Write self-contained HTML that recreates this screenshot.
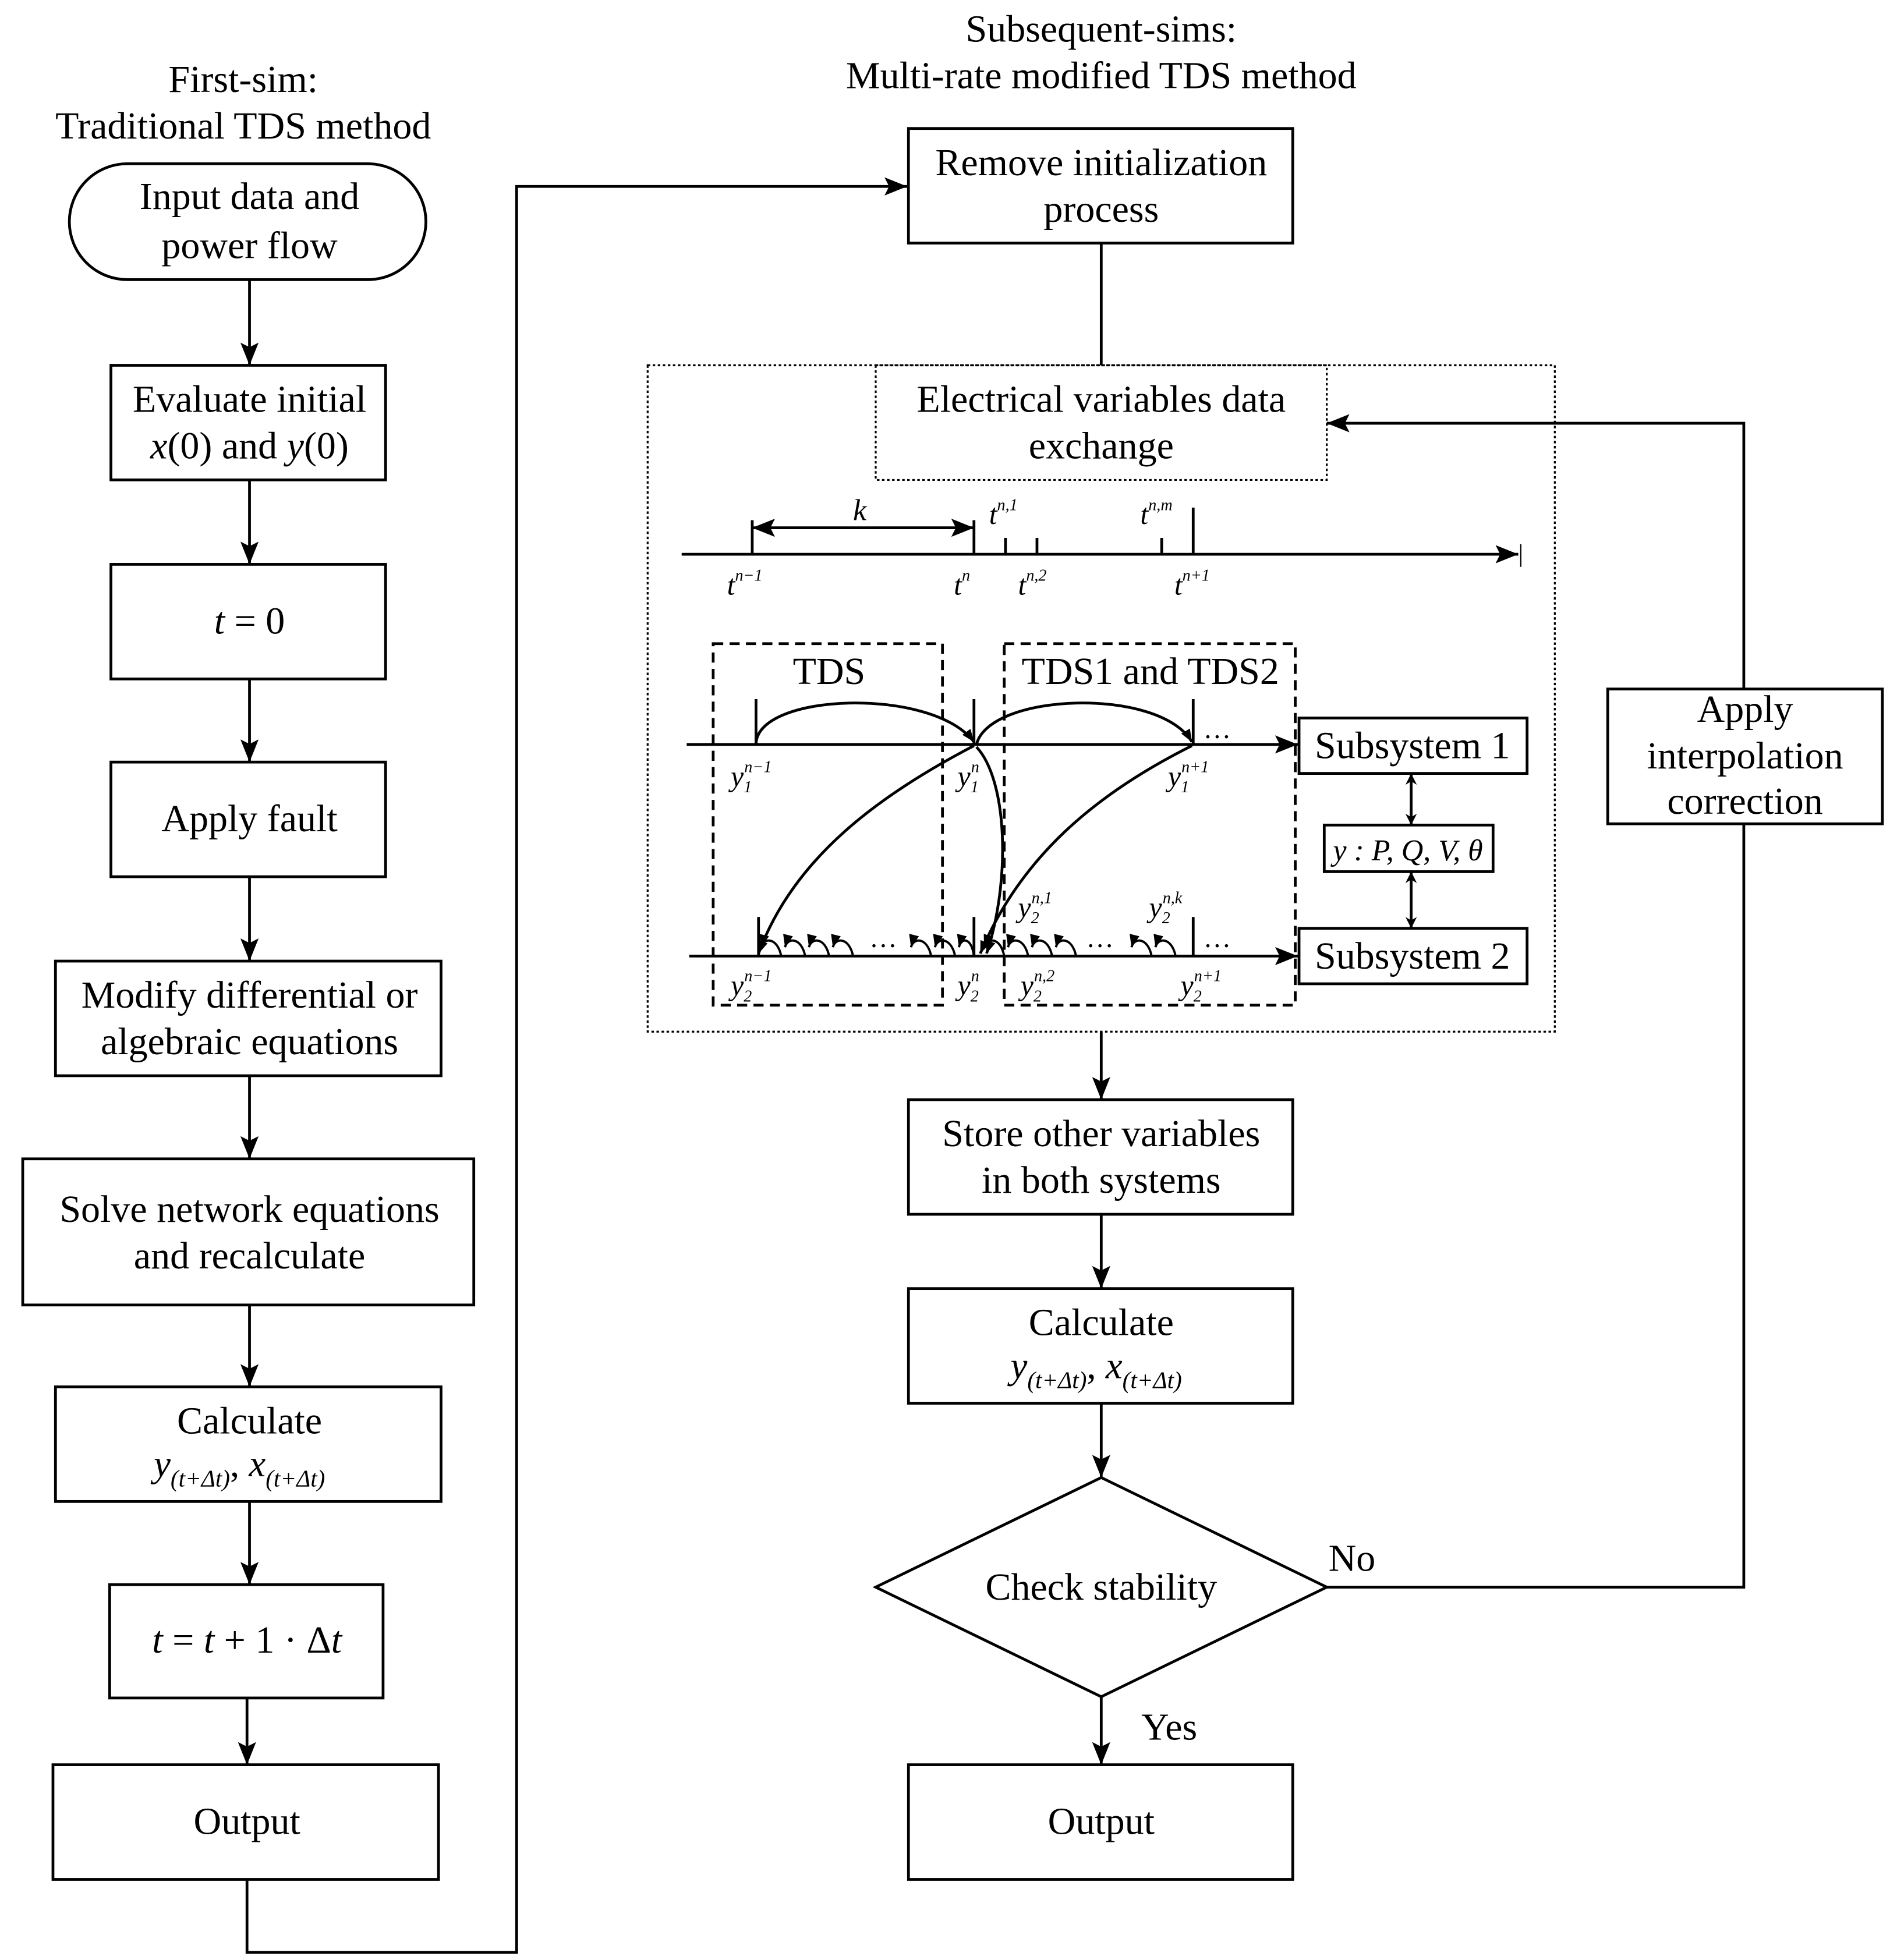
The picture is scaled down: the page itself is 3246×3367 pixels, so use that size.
<!DOCTYPE html>
<html><head><meta charset="utf-8"><style>html,body{margin:0;padding:0;background:#fff}svg{display:block}text{font-family:"Liberation Serif",serif;fill:#000}</style></head><body>
<svg width="3246" height="3367" viewBox="0 0 1500 1556" xmlns="http://www.w3.org/2000/svg">
<defs>
<marker id="a" viewBox="0 0 10 10" refX="10" refY="5" markerWidth="9" markerHeight="9" markerUnits="userSpaceOnUse" orient="auto-start-reverse"><path d="M0,0 L10,5 L0,10 L3,5 z" fill="#000"/></marker>
<marker id="b" viewBox="0 0 10 10" refX="10" refY="5" markerWidth="18" markerHeight="18" markerUnits="userSpaceOnUse" orient="auto-start-reverse"><path d="M0,1 L10,5 L0,9 L2,5 z" fill="#000"/></marker>
<marker id="s" viewBox="0 0 10 10" refX="10" refY="5" markerWidth="10" markerHeight="10" markerUnits="userSpaceOnUse" orient="auto"><path d="M0,1 L10,5 L0,9 z" fill="#000"/></marker>
</defs>
<g fill="none" stroke="#000" stroke-width="2.2">
<rect x="55" y="130" width="283" height="92" rx="46"/>
<rect x="88" y="290" width="218" height="91"/>
<rect x="88" y="448" width="218" height="91"/>
<rect x="88" y="605" width="218" height="91"/>
<rect x="44" y="763" width="306" height="91"/>
<rect x="18" y="920" width="358" height="116"/>
<rect x="44" y="1101" width="306" height="91"/>
<rect x="87" y="1258" width="217" height="90"/>
<rect x="42" y="1401" width="306" height="91"/>
<g marker-end="url(#b)">
<line x1="198" y1="222" x2="198" y2="290"/>
<line x1="198" y1="381" x2="198" y2="448"/>
<line x1="198" y1="539" x2="198" y2="605"/>
<line x1="198" y1="696" x2="198" y2="763"/>
<line x1="198" y1="854" x2="198" y2="920"/>
<line x1="198" y1="1036" x2="198" y2="1101"/>
<line x1="198" y1="1192" x2="198" y2="1258"/>
<line x1="196" y1="1348" x2="196" y2="1401"/>
<polyline points="196,1492 196,1550 410,1550 410,148 720,148"/>
</g>
<rect x="721" y="102" width="305" height="91"/>
<line x1="874" y1="193" x2="874" y2="290"/>
<rect x="514" y="290" width="720" height="529" stroke-dasharray="2,2" stroke-width="1.5"/>
<rect x="695" y="290" width="358" height="91" stroke-dasharray="2,2" stroke-width="1.5"/>
<rect x="721" y="873" width="305" height="91"/>
<rect x="721" y="1023" width="305" height="91"/>
<polygon points="874,1173 1053,1260 874,1347 695,1260"/>
<rect x="721" y="1401" width="305" height="91"/>
<rect x="1276" y="547" width="218" height="107"/>
<g marker-end="url(#b)">
<line x1="874" y1="819" x2="874" y2="873"/>
<line x1="874" y1="964" x2="874" y2="1023"/>
<line x1="874" y1="1114" x2="874" y2="1173"/>
<line x1="874" y1="1347" x2="874" y2="1401"/>
<polyline points="1384,547 1384,336 1053,336"/>
</g>
<polyline points="1053,1260 1384,1260 1384,654"/>
<line x1="541" y1="440" x2="1205" y2="440" marker-end="url(#b)"/>
<line x1="1207" y1="432" x2="1207" y2="450" stroke-width="1"/>
<line x1="597" y1="413" x2="597" y2="440"/><line x1="773" y1="413" x2="773" y2="440"/>
<line x1="798" y1="427" x2="798" y2="440"/><line x1="823" y1="427" x2="823" y2="440"/>
<line x1="922" y1="427" x2="922" y2="440"/><line x1="947" y1="403" x2="947" y2="440"/>
<line x1="597" y1="419" x2="773" y2="419" marker-start="url(#b)" marker-end="url(#b)"/>
<rect x="566" y="511" width="182" height="287" stroke-dasharray="8,5"/>
<rect x="797" y="511" width="231" height="287" stroke-dasharray="8,5"/>
<line x1="545" y1="591" x2="1030" y2="591" marker-end="url(#b)"/>
<line x1="547" y1="759" x2="1030" y2="759" marker-end="url(#b)"/>
<rect x="1031" y="570" width="181" height="44"/>
<rect x="1031" y="737" width="181" height="44"/>
<rect x="1051" y="655" width="134" height="37"/>
<line x1="1120" y1="614" x2="1120" y2="655" marker-start="url(#a)" marker-end="url(#a)"/>
<line x1="1120" y1="692" x2="1120" y2="737" marker-start="url(#a)" marker-end="url(#a)"/>
<line x1="600" y1="555" x2="600" y2="591"/><line x1="773" y1="555" x2="773" y2="591"/><line x1="947" y1="555" x2="947" y2="591"/>
<line x1="602" y1="728" x2="602" y2="759"/><line x1="773" y1="728" x2="773" y2="759"/><line x1="947" y1="728" x2="947" y2="759"/>
<path d="M600,591 C600,550 740,545 773,589" marker-end="url(#s)"/>
<path d="M775,591 C785,550 920,545 946,589" marker-end="url(#s)"/>
<path d="M773,592 C700,630 630,680 602,757" marker-end="url(#s)"/>
<path d="M946,592 C870,630 810,680 778,757" marker-end="url(#s)"/>
<path d="M775,593 C800,620 802,700 783,757" marker-end="url(#s)"/>
<g stroke-width="1.8">
<path d="M620,759 C617,744 606,744 604,752" marker-end="url(#s)"/>
<path d="M639,759 C636,744 625,744 623,752" marker-end="url(#s)"/>
<path d="M658,759 C655,744 644,744 642,752" marker-end="url(#s)"/>
<path d="M677,759 C674,744 663,744 661,752" marker-end="url(#s)"/>
<path d="M739,759 C736,744 725,744 723,752" marker-end="url(#s)"/>
<path d="M758,759 C755,744 744,744 742,752" marker-end="url(#s)"/>
<path d="M773,759 C771,744 763,744 761,752" marker-end="url(#s)"/>
<path d="M797,759 C794,744 784,744 781,752" marker-end="url(#s)"/>
<path d="M816,759 C813,744 802,744 800,752" marker-end="url(#s)"/>
<path d="M835,759 C832,744 821,744 819,752" marker-end="url(#s)"/>
<path d="M854,759 C851,744 840,744 838,752" marker-end="url(#s)"/>
<path d="M914,759 C911,744 900,744 898,752" marker-end="url(#s)"/>
<path d="M933,759 C930,744 919,744 917,752" marker-end="url(#s)"/>
</g>
</g>
<g font-size="30.5" text-anchor="middle">
<text x="193" y="73">First-sim:</text>
<text x="193" y="110">Traditional TDS method</text>
<text x="874" y="33">Subsequent-sims:</text>
<text x="874" y="70">Multi-rate modified TDS method</text>
<text x="198" y="166">Input data and</text><text x="198" y="205">power flow</text>
<text x="198" y="327">Evaluate initial</text>
<text x="198" y="364"><tspan font-style="italic">x</tspan>(0) and <tspan font-style="italic">y</tspan>(0)</text>
<text x="198" y="503"><tspan font-style="italic">t</tspan> = 0</text>
<text x="198" y="660">Apply fault</text>
<text x="198" y="800">Modify differential or</text><text x="198" y="837">algebraic equations</text>
<text x="198" y="970">Solve network equations</text><text x="198" y="1007">and recalculate</text>
<text x="198" y="1138">Calculate</text>
<text x="196" y="1312"><tspan font-style="italic">t</tspan> = <tspan font-style="italic">t</tspan> + 1 · Δ<tspan font-style="italic">t</tspan></text>
<text x="196" y="1456">Output</text>
<text x="874" y="139">Remove initialization</text><text x="874" y="176">process</text>
<text x="874" y="327">Electrical variables data</text><text x="874" y="364">exchange</text>
<text x="874" y="910">Store other variables</text><text x="874" y="947">in both systems</text>
<text x="874" y="1060">Calculate</text>
<text x="874" y="1270">Check stability</text>
<text x="874" y="1456">Output</text>
<text x="1385" y="573">Apply</text><text x="1385" y="610">interpolation</text><text x="1385" y="646">correction</text>
<text x="658" y="543">TDS</text>
<text x="913" y="543">TDS1 and TDS2</text>
<text x="1121" y="602">Subsystem 1</text>
<text x="1121" y="769">Subsystem 2</text>
<text x="1073" y="1247">No</text>
<text x="928" y="1381">Yes</text>
</g>
<g font-size="30" font-style="italic">
<text x="122" y="1172">y<tspan font-size="19" dy="8">(t+Δt)</tspan><tspan dy="-8" font-style="normal">, </tspan>x<tspan font-size="19" dy="8">(t+Δt)</tspan></text>
<text x="802" y="1094">y<tspan font-size="19" dy="8">(t+Δt)</tspan><tspan dy="-8" font-style="normal">, </tspan>x<tspan font-size="19" dy="8">(t+Δt)</tspan></text>
<text x="677" y="413" font-size="24">k</text>
<text x="1058" y="683" font-size="24">y : P, Q, V, θ</text>
</g>
<g font-size="23" font-style="italic">
<text x="577" y="472">t<tspan font-size="13" dy="-11">n−1</tspan></text>
<text x="757" y="472">t<tspan font-size="13" dy="-11">n</tspan></text>
<text x="808" y="472">t<tspan font-size="13" dy="-11">n,2</tspan></text>
<text x="932" y="472">t<tspan font-size="13" dy="-11">n+1</tspan></text>
<text x="785" y="416">t<tspan font-size="13" dy="-11">n,1</tspan></text>
<text x="905" y="416">t<tspan font-size="13" dy="-11">n,m</tspan></text>
<text x="580" y="624">y<tspan font-size="13" dy="5">1</tspan><tspan font-size="13" dx="-6" dy="-16">n−1</tspan></text>
<text x="760" y="624">y<tspan font-size="13" dy="5">1</tspan><tspan font-size="13" dx="-6" dy="-16">n</tspan></text>
<text x="927" y="624">y<tspan font-size="13" dy="5">1</tspan><tspan font-size="13" dx="-6" dy="-16">n+1</tspan></text>
<text x="580" y="790">y<tspan font-size="13" dy="5">2</tspan><tspan font-size="13" dx="-6" dy="-16">n−1</tspan></text>
<text x="760" y="790">y<tspan font-size="13" dy="5">2</tspan><tspan font-size="13" dx="-6" dy="-16">n</tspan></text>
<text x="810" y="790">y<tspan font-size="13" dy="5">2</tspan><tspan font-size="13" dx="-6" dy="-16">n,2</tspan></text>
<text x="937" y="790">y<tspan font-size="13" dy="5">2</tspan><tspan font-size="13" dx="-6" dy="-16">n+1</tspan></text>
<text x="808" y="728">y<tspan font-size="13" dy="5">2</tspan><tspan font-size="13" dx="-6" dy="-16">n,1</tspan></text>
<text x="912" y="728">y<tspan font-size="13" dy="5">2</tspan><tspan font-size="13" dx="-6" dy="-16">n,k</tspan></text>
</g>
<g font-size="22">
<text x="690" y="752">…</text><text x="862" y="752">…</text>
<text x="955" y="752">…</text><text x="955" y="586">…</text>
</g>
</svg>
</body></html>
